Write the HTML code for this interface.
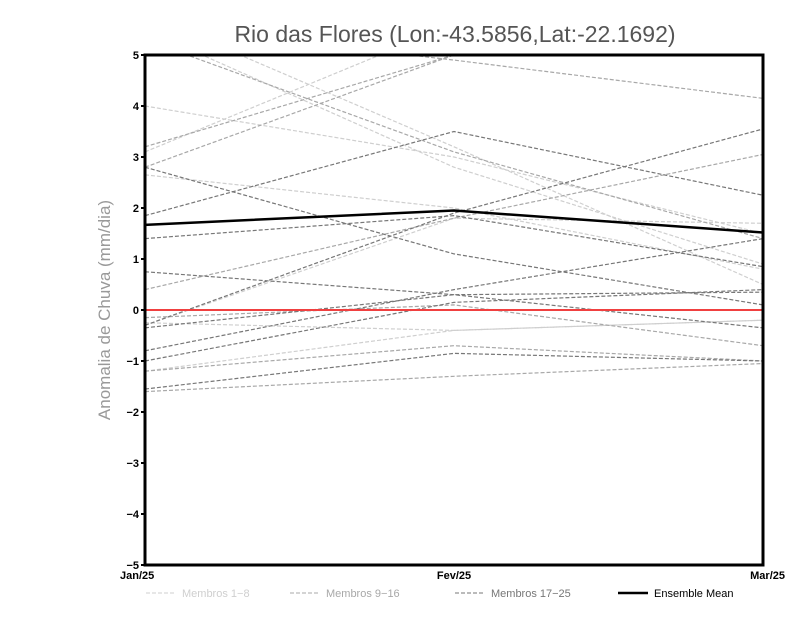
<!DOCTYPE html>
<html><head><meta charset="utf-8"><style>
body{margin:0;background:#fff;width:800px;height:618px;overflow:hidden}
svg{display:block}
text{font-family:"Liberation Sans",sans-serif}
</style></head><body>
<svg id="chart" width="800" height="618">
<text x="455" y="42" text-anchor="middle" font-size="23" fill="#555">Rio das Flores (Lon:-43.5856,Lat:-22.1692)</text>
<text transform="translate(110,310) rotate(-90)" text-anchor="middle" font-size="17" fill="#999">Anomalia de Chuva (mm/dia)</text>
<defs><clipPath id="pc"><rect x="145" y="55" width="618" height="510"/></clipPath></defs>
<g id="lines" clip-path="url(#pc)"></g>
<g id="axes"></g>
<g id="legend"></g>
</svg>
<script>
const categories=["Jan/25","Fev/25","Mar/25"];
const yTicks=[-5,-4,-3,-2,-1,0,1,2,3,4,5];
const groupA=[[3.1,5.6,6],[4.0,3.0,1.5],[2.65,2.0,0.8],[-1.2,-0.4,-0.2],[-0.25,-0.4,-0.2],[5.5,2.8,0.9],[5.8,3.2,0.5],[-0.3,1.8,1.7]];
const groupB=[[5.6,4.9,4.15],[3.2,5.0,6],[2.8,5.0,6],[0.4,1.8,3.05],[-1.2,-0.7,-1.0],[-1.6,-1.3,-1.05],[-0.15,0.1,-0.7],[5.3,3.1,1.4]];
const groupC=[[1.85,3.5,2.25],[1.4,1.85,0.85],[2.8,1.1,0.1],[0.75,0.3,-0.35],[-0.3,1.9,3.55],[-0.8,0.4,1.4],[-1.0,0.15,0.4],[-1.55,-0.85,-1.0],[-0.35,0.3,0.35]];
const ensembleMean=[1.67,1.95,1.52];
const NS="http://www.w3.org/2000/svg";
const L=145,R=763,T=55,B=565;
const xs=i=>L+(R-L)*i/(categories.length-1);
const ys=v=>B-(v+5)/10*(B-T);
function mk(t,a,p){const e=document.createElementNS(NS,t);for(const k in a)e.setAttribute(k,a[k]);p.appendChild(e);return e;}
const lg=document.getElementById('lines'),ax=document.getElementById('axes'),leg=document.getElementById('legend');
function series(g,col,nm){g.forEach(s=>{const p=mk('polyline',{points:s.map((v,i)=>xs(i)+','+ys(v)).join(' '),fill:'none',stroke:col,'stroke-width':1.2,'stroke-dasharray':'4,2'},lg);

});}
series(groupA,'#cfcfcf','member-line-1-8');
series(groupB,'#a8a8a8','member-line-9-16');
series(groupC,'#777','member-line-17-25');
const z=mk('line',{x1:L,x2:R,y1:ys(0),y2:ys(0),stroke:'#f04040','stroke-width':2},lg);


const em=mk('polyline',{points:ensembleMean.map((v,i)=>xs(i)+','+ys(v)).join(' '),fill:'none',stroke:'#000','stroke-width':2.5},lg);


const fr=mk('rect',{x:L,y:T,width:R-L,height:B-T,fill:'none',stroke:'#000','stroke-width':3},ax);


yTicks.forEach(v=>{mk('line',{x1:L-4,x2:L,y1:ys(v),y2:ys(v),stroke:'#000','stroke-width':2},ax);
const t=mk('text',{x:L-6,y:ys(v)+4,'text-anchor':'end','font-size':11,'font-weight':'bold'},ax);t.textContent=v<0?'\u2212'+(-v):v;

});
categories.forEach((c,i)=>{const an=i==0?'start':i==categories.length-1?'end':'middle';const xx=i==0?xs(i)-25+22:i==categories.length-1?xs(i)+22:xs(i);
const t=mk('text',{x:i==0?L-25:i==2?R+22:xs(i),y:B+14,'text-anchor':an,'font-size':11,'font-weight':'bold'},ax);t.textContent=c;

});
const items=[['Membros 1-8','#cfcfcf',146,1,'4,2'],['Membros 9-16','#a8a8a8',290,1,'4,2'],['Membros 17-25','#777',455,1,'4,2'],['Ensemble Mean','#000',618,2.5,'']];
items.forEach(it=>{const g=mk('g',{},leg);


mk('line',{x1:it[2],x2:it[2]+30,y1:593,y2:593,stroke:it[1],'stroke-width':it[3],'stroke-dasharray':it[4]},g);
const t=mk('text',{x:it[2]+36,y:597,'font-size':11,fill:it[0]=='Ensemble Mean'?'#000':it[1]},g);t.textContent=it[0].replace('-','\u2212');});
</script>
</body></html>
